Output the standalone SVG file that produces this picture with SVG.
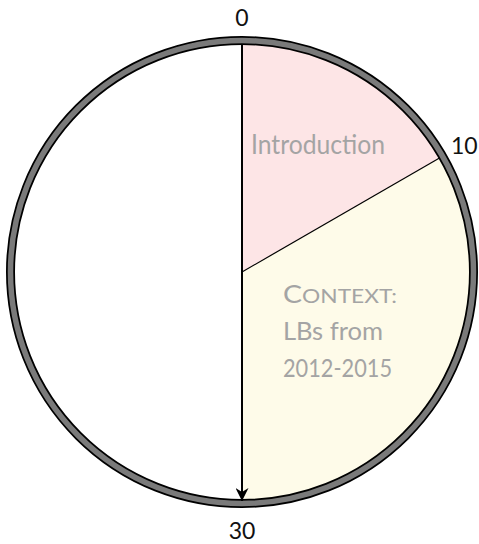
<svg xmlns="http://www.w3.org/2000/svg" width="479" height="544" viewBox="0 0 479 544">
  <style>
    .tick { font-family: Lato, "Open Sans", sans-serif; font-size: 23px; fill: #111; }
    .label { font-family: Lato, "Open Sans", sans-serif; fill: #a4a4a4; }
    .edge { stroke: #000; fill: none; }
  </style>
  <defs>
    <marker id="arrow" viewBox="0 0 10 10" refX="10" refY="5" markerWidth="13" markerHeight="13" markerUnits="userSpaceOnUse" orient="auto">
      <path d="M0,0 L10,5 L0,10 L3,5 Z" fill="#000"/>
    </marker>
  </defs>

  <rect width="479" height="544" fill="#fff"/>

  <!-- sectors: 0–10 and 10–30 of a 60-unit clock -->
  <g id="introduction">
    <path d="M242,272 L242,44 A228,228 0 0 1 439.5,158 Z" fill="#fde5e6"/>
    <text class="label" x="251" y="154" font-size="27" textLength="134" lengthAdjust="spacingAndGlyphs">Introduction</text>
  </g>
  <g id="context">
    <path d="M242,272 L439.5,158 A228,228 0 0 1 242,500 Z" fill="#fefbe9"/>
    <text class="label" x="283" y="303" font-size="25" textLength="114" lengthAdjust="spacingAndGlyphs"><tspan>C</tspan><tspan font-size="20">ONTEXT:</tspan></text>
    <text class="label" x="283" y="340" font-size="25" textLength="100" lengthAdjust="spacingAndGlyphs">LBs from</text>
    <text class="label" x="283" y="377" font-size="25" textLength="109" lengthAdjust="spacingAndGlyphs">2012-2015</text>
  </g>

  <!-- rim -->
  <g id="rim">
    <circle cx="242" cy="272" r="231.5" fill="none" stroke="#000" stroke-width="9"/>
    <circle cx="242" cy="272" r="231.5" fill="none" stroke="#7a7a7a" stroke-width="5.5"/>
  </g>

  <g id="connectors">
    <line class="edge" x1="439.5" y1="158" x2="242" y2="272" stroke-width="1.2"/>
    <line class="edge" x1="242" y1="44" x2="242" y2="501" stroke-width="2" marker-end="url(#arrow)"/>
  </g>

  <g id="ticks">
    <text class="tick" x="242" y="26" text-anchor="middle">0</text>
    <text class="tick" x="451" y="154">10</text>
    <text class="tick" x="242" y="539" text-anchor="middle">30</text>
  </g>
</svg>
